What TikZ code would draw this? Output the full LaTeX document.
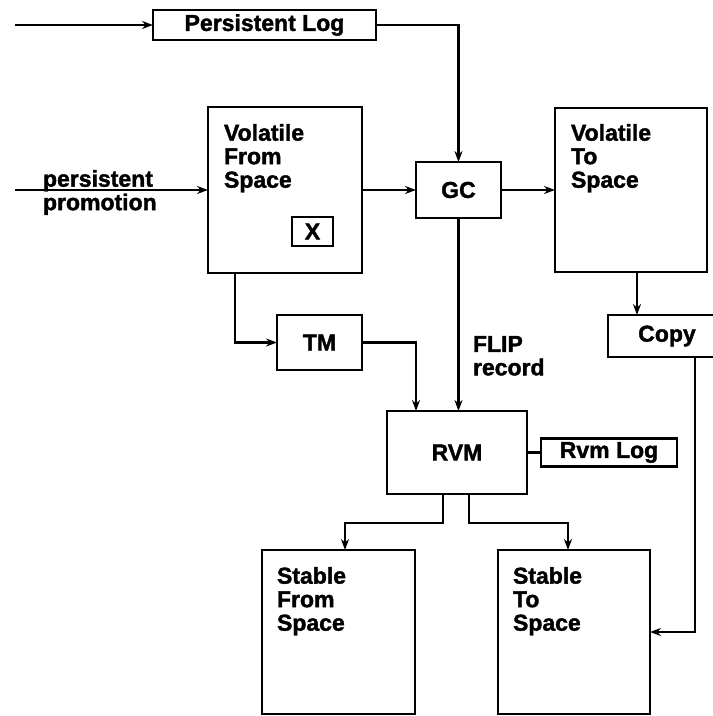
\documentclass[tikz,border=0pt]{standalone}
\usepackage{fontspec}
\setmainfont{Liberation Sans}[BoldFeatures={FakeBold=1.6}]
\usetikzlibrary{arrows.meta}
\newcommand\labfont{\fontsize{23}{23.5}\selectfont\bfseries}
\tikzset{
  box/.style={draw, line width=2.1pt, rectangle, inner sep=0pt, outer sep=0pt, font=\labfont},
  lbl/.style={inner sep=0pt, outer sep=0pt, align=left, font=\labfont, anchor=north west},
  conn/.style={draw, line width=2.3pt, -{Stealth[length=11pt,width=8pt]}},
  plainline/.style={draw, line width=2.3pt}
}
\begin{document}
\begin{tikzpicture}[x=1pt,y=-1pt]
\useasboundingbox (0,0) rectangle (713,716);
% boxes
\node[box, minimum width=223pt, minimum height=30pt] (plog) at (264.5,25) {Persistent Log};
\node[box, minimum width=154pt, minimum height=166pt] (vfs) at (285,190) {};
\node[box, minimum width=41pt, minimum height=29pt] (xbox) at (312.5,231.5) {X};
\node[box, minimum width=85pt, minimum height=56pt] (gc) at (458.5,190) {GC};
\node[box, minimum width=152pt, minimum height=164pt] (vts) at (631,190) {};
\node[box, minimum width=118pt, minimum height=42pt] (copy) at (667,336) {Copy};
\node[box, minimum width=85pt, minimum height=55pt] (tm) at (319.5,342.5) {TM};
\node[box, minimum width=140pt, minimum height=83pt] (rvm) at (457,452.5) {RVM};
\node[box, minimum width=136pt, minimum height=28pt] (rvmlog) at (609,452.5) {Rvm Log};
\node[box, minimum width=153pt, minimum height=164pt] (sfs) at (338.5,632) {};
\node[box, minimum width=152pt, minimum height=164pt] (sts) at (574,632) {};
% texts
\node[lbl] (vfst) at (224,124) {Volatile\\From\\Space};
\node[lbl] (vtst) at (571,124) {Volatile\\To\\Space};
\node[lbl] (sfst) at (277,567) {Stable\\From\\Space};
\node[lbl] (stst) at (513,567) {Stable\\To\\Space};
\node[lbl] (flip) at (473,336) {FLIP\\record};
\node[lbl] (promo) at (43,170) {persistent\\promotion};
% free ends
\coordinate (pin) at (15,25);
\coordinate (ppin) at (15,190);
% connectors
\path[conn] (pin) -- (plog.west);
\path[conn] (plog.east) -| (gc.north);
\path[conn] (ppin) -- (vfs.west);
\path[conn] (vfs.east) -- (gc.west);
\path[conn] (gc.east) -- (vts.west);
\path[conn] ([xshift=6pt]vts.south) -- ([xshift=6pt]vts.south |- copy.north);
\path[conn] ([xshift=28pt]copy.south) |- (sts.east);
\path[conn] (gc.south) -- (gc.south |- rvm.north);
\path[conn] ([xshift=-50pt]vfs.south) |- (tm.west);
\path[conn] (tm.east) -| ([xshift=-41pt]rvm.north);
\path[plainline] (rvm.east) -- (rvmlog.west);
\path[conn] ([xshift=-14pt]rvm.south) -- ++(0,29) -| ([xshift=6.5pt]sfs.north);
\path[conn] ([xshift=12pt]rvm.south) -- ++(0,29) -| ([xshift=-6pt]sts.north);
\end{tikzpicture}
\end{document}
